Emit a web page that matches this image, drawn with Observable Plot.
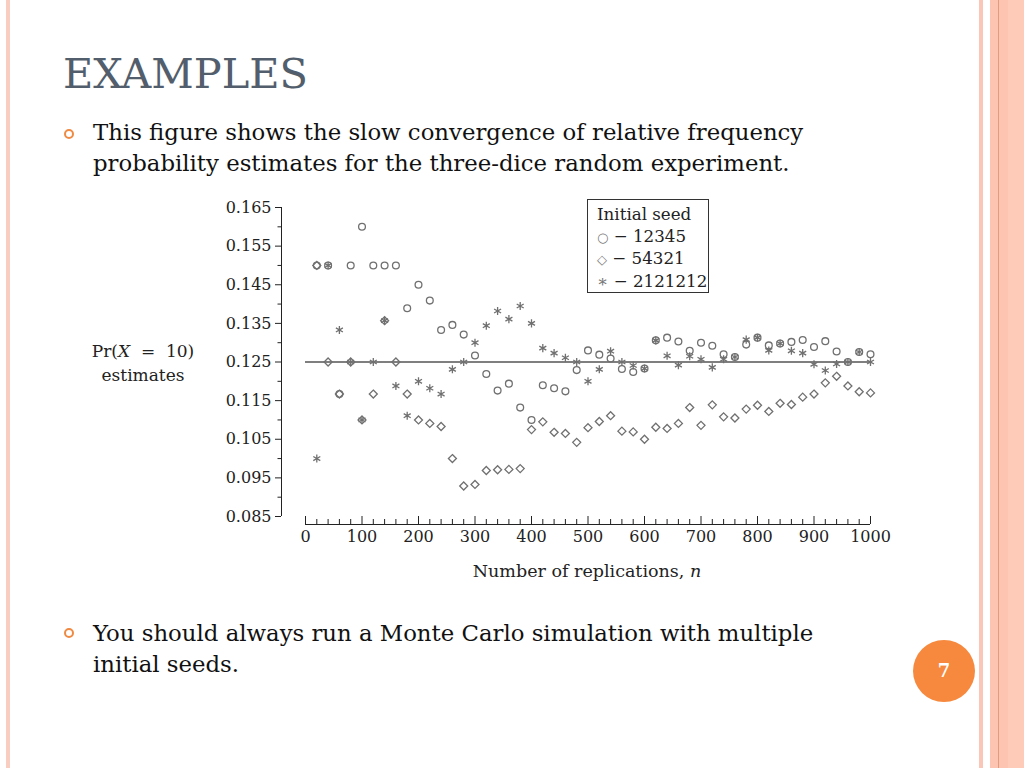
<!DOCTYPE html>
<html><head><meta charset="utf-8">
<script src="https://cdn.jsdelivr.net/npm/d3@7"></script>
<script src="https://cdn.jsdelivr.net/npm/@observablehq/plot@0.6"></script>
<style>
body{margin:0;width:1024px;height:768px;position:relative;overflow:hidden;background:#fff;font-family:"DejaVu Serif",serif;}
.abs{position:absolute;white-space:nowrap;}
.bul{position:absolute;width:6px;height:6px;border:2.5px solid #f08a43;border-radius:50%;}
</style></head><body>
<!-- decorative stripes -->
<div class="abs" style="left:6px;top:0;width:4px;height:768px;background:#f9cdbf"></div>
<div class="abs" style="left:979px;top:0;width:4px;height:768px;background:#f9c6b8"></div>
<div class="abs" style="left:990px;top:0;width:18px;height:768px;background:#fcc4b1"></div>
<div class="abs" style="left:998px;top:0;width:1px;height:768px;background:#e39b7d"></div>
<div class="abs" style="left:1008px;top:0;width:16px;height:768px;background:#fdcbb7"></div>

<div class="abs" style="left:63px;top:53px;font-size:41.5px;line-height:41px;color:#525e6b">EXAMPLES</div>

<div class="bul" style="left:64px;top:129px"></div>
<div class="abs" style="left:93px;top:117px;font-size:22.8px;line-height:31px;color:#111">This figure shows the slow convergence of relative frequency<br>probability estimates for the three-dice random experiment.</div>

<div class="bul" style="left:64px;top:628px"></div>
<div class="abs" style="left:93px;top:618px;font-size:22.8px;line-height:31px;color:#111">You should always run a Monte Carlo simulation with multiple<br>initial seeds.</div>

<div class="abs" style="left:913px;top:640px;width:62px;height:62px;border-radius:50%;background:#f6893d;color:#fff;font-weight:bold;font-size:18px;line-height:62px;text-align:center">7</div>

<div class="abs" style="left:73px;top:339px;width:140px;text-align:center;font-size:17px;line-height:24px;color:#222">Pr(<i>X</i>&nbsp;&nbsp;=&nbsp;&nbsp;10)<br>estimates</div>
<div class="abs" style="left:437px;top:560px;width:300px;text-align:center;font-size:17.5px;line-height:22px;color:#222">Number of replications, <i>n</i></div>

<div id="chart" class="abs" style="left:200px;top:190px"></div>

<div class="abs" style="left:587px;top:199px;width:120px;height:92px;border:1.5px solid #333;background:#fff;font-size:16.7px;line-height:21.5px;color:#222;padding:0;">
  <div style="position:absolute;left:9px;top:4px">Initial seed<br><span style="color:#777;font-size:13px">○</span> − 12345<br><span style="color:#777;font-size:13px">◇</span> − 54321<br><span style="color:#777">∗</span> − 2121212</div>
</div>

<script>
const n = [20,40,60,80,100,120,140,160,180,200,220,240,260,280,300,320,340,360,380,400,420,440,460,480,500,520,540,560,580,600,620,640,660,680,700,720,740,760,780,800,820,840,860,880,900,920,940,960,980,1000];
const seed12345 = [.150,.150,.1167,.150,.160,.150,.150,.150,.1389,.145,.1409,.1333,.1346,.1321,.1267,.1219,.1176,.1194,.1132,.110,.1190,.1182,.1174,.1229,.128,.1269,.1259,.1232,.1224,.1233,.1306,.1313,.1303,.1279,.130,.1292,.1270,.1263,.1295,.1313,.1293,.1298,.1302,.1307,.1289,.1304,.1277,.125,.1276,.127];
const seed54321 = [.150,.125,.1167,.125,.110,.1167,.1357,.125,.1167,.110,.1091,.1083,.100,.0929,.0933,.0969,.0971,.0972,.0974,.1075,.1095,.1068,.1065,.1042,.108,.1096,.1111,.1071,.1069,.105,.1081,.1078,.1091,.1132,.1086,.1139,.1108,.1105,.1128,.1138,.1122,.1143,.114,.1159,.1167,.1196,.1213,.1188,.1173,.117];
const seed2121212 = [.100,.150,.1333,.125,.110,.125,.1357,.1188,.1111,.120,.1182,.1167,.1231,.125,.130,.1344,.1382,.1361,.1395,.135,.1286,.1273,.1261,.125,.120,.1231,.1278,.125,.1241,.1233,.1306,.1266,.1242,.1265,.1257,.1236,.1257,.1263,.1308,.1313,.128,.1298,.1279,.1273,.1244,.1228,.1245,.125,.1276,.125];
const trueValue = [0.125];
const yMajor = [0.085,0.095,0.105,0.115,0.125,0.135,0.145,0.155,0.165];
const yMinor = [0.09,0.10,0.11,0.12,0.13,0.14,0.15,0.16];
const xMajor = [0,100,200,300,400,500,600,700,800,900,1000];
const xMinor = [20,40,60,80,120,140,160,180,220,240,260,280,320,340,360,380,420,440,460,480,520,540,560,580,620,640,660,680,720,740,760,780,820,840,860,880,920,940,960,980];

const toRows = (vals) => n.map((v, i) => ({n: v, p: vals[i]}));
const markStyle = {x: "n", y: "p", fill: "none", stroke: "#707070", strokeWidth: 1.3};
const axisColor = "#222";

const chart = Plot.plot({
  width: 700, height: 400,
  marginLeft: 105, marginRight: 30, marginTop: 17, marginBottom: 74,
  x: {domain: [0, 1000]},
  y: {domain: [0.085, 0.165]},
  style: {fontFamily: "DejaVu Serif", fontSize: "16px", color: axisColor, background: "transparent"},
  marks: [
    Plot.ruleX([0], {y1: 0.085, y2: 0.165, dx: -24, stroke: axisColor}),
    Plot.ruleY(yMajor, {x1: 0, x2: 0, dx: -24, insetRight: 6, stroke: axisColor}),
    Plot.ruleY(yMinor, {x1: 0, x2: 0, dx: -24, insetRight: 3.5, stroke: axisColor}),
    Plot.axisY({ticks: yMajor, tickSize: 0, tickPadding: 34, tickFormat: d3.format(".3f"), label: null}),
    Plot.ruleY([0.085], {x1: 0, x2: 1000, dy: 8, stroke: axisColor}),
    Plot.ruleX(xMajor, {y1: 0.085, y2: 0.085, dy: 8, insetBottom: 8, stroke: axisColor}),
    Plot.ruleX(xMinor, {y1: 0.085, y2: 0.085, dy: 8, insetBottom: 5, stroke: axisColor}),
    Plot.axisX({ticks: xMajor, tickSize: 0, tickPadding: 14, tickFormat: d => String(d), label: null}),
    Plot.ruleY(trueValue, {x1: 0, x2: 1000, stroke: "#555", strokeWidth: 1.3}),
    Plot.dot(toRows(seed12345), {...markStyle, symbol: "circle", r: 3.4}),
    Plot.dot(toRows(seed54321), {...markStyle, symbol: "diamond2", r: 3.6}),
    Plot.dot(toRows(seed2121212), {...markStyle, symbol: "asterisk", r: 3.8})
  ]
});
document.getElementById("chart").appendChild(chart);
</script>
</body></html>
